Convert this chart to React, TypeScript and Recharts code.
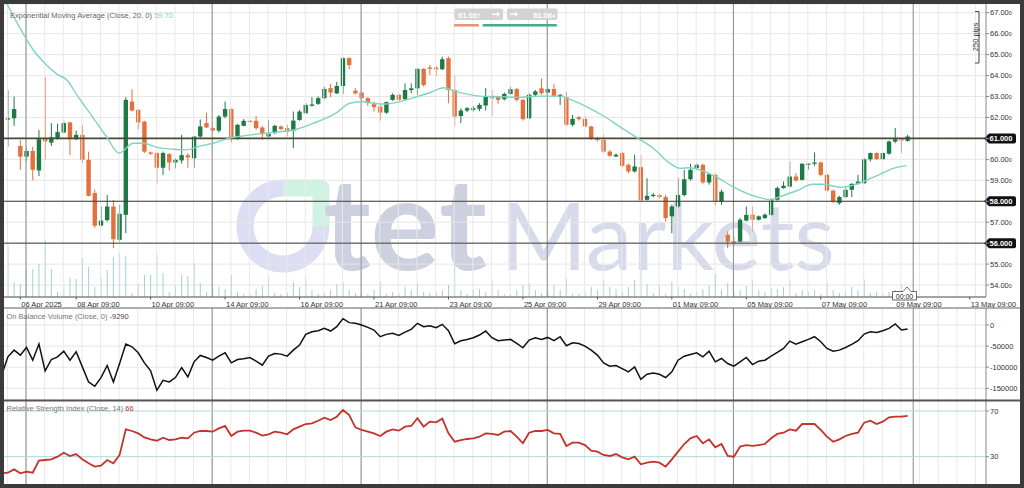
import React from "react";
import { ComposedChart, Bar, Line, XAxis, YAxis, CartesianGrid, ReferenceLine } from "recharts";

const FONT = '"Liberation Sans", Arial, sans-serif';
const UP = "#1d7a46";
const DOWN = "#e3713d";
const EMA_COLOR = "#7fd4c1";
const VOL_COLOR = "#9ed5cb";
const RSI_COLOR = "#c4322c";

// ---------- data (4h candles, 04 Apr – 09 May 2025) ----------
const opens = [
  64.35, 61.90, 61.96, 60.64, 60.13, 60.40, 59.47, 61.00, 60.80, 61.00,
  61.28, 61.76, 60.96, 61.17, 59.98, 58.39, 56.84, 57.10, 57.75, 56.16,
  57.35, 62.76, 62.36, 61.80, 60.33, 60.30, 59.60, 60.25, 59.85, 59.95,
  60.20, 60.05, 61.09, 61.73, 61.50, 61.37, 62.04, 62.40, 61.00, 61.60,
  61.84, 61.84, 61.52, 61.09, 61.25, 61.57, 61.49, 61.37, 61.88, 62.20,
  62.58, 62.65, 62.92, 63.40, 63.15, 63.50, 64.83, 63.28, 63.19, 62.92,
  62.63, 62.52, 62.23, 62.84, 63.08, 62.87, 63.31, 63.39, 64.32, 64.38,
  64.38, 64.30, 64.83, 63.31, 62.07, 62.33, 62.36, 62.41, 62.57, 62.97,
  62.97, 62.87, 63.12, 63.35, 62.84, 61.96, 63.08, 63.39, 63.19, 63.36,
  62.99, 62.97, 61.65, 62.01, 61.93, 61.57, 61.01, 60.93, 60.37, 60.14,
  60.30, 59.74, 59.42, 59.63, 58.07, 58.28, 58.30, 58.20, 57.28, 57.75,
  58.30, 59.05, 59.58, 59.74, 58.90, 59.26, 57.99, 56.40, 56.08, 56.08,
  57.08, 57.36, 57.12, 57.20, 57.35, 58.07, 58.63, 58.70, 59.18, 59.02,
  59.78, 59.79, 59.85, 59.26, 58.51, 57.91, 58.20, 58.55, 58.83, 58.86,
  60.00, 60.30, 60.01, 60.27, 60.85, 60.96, 60.88,
];
const highs = [
  64.40, 63.30, 63.00, 60.93, 60.60, 60.60, 61.40, 63.95, 61.73, 61.70,
  61.84, 61.80, 61.37, 61.65, 60.37, 58.55, 57.75, 58.30, 58.07, 57.83,
  62.97, 63.35, 62.40, 61.84, 60.37, 60.37, 60.37, 60.30, 60.05, 61.17,
  60.30, 61.12, 61.90, 62.23, 61.55, 62.12, 62.76, 62.44, 61.68, 61.92,
  61.88, 62.07, 61.60, 61.88, 61.65, 61.62, 61.65, 62.28, 62.36, 62.68,
  62.97, 63.00, 63.47, 63.59, 63.70, 64.87, 64.87, 63.40, 63.23, 62.97,
  62.76, 62.60, 62.76, 63.15, 63.15, 63.63, 63.63, 64.35, 64.35, 64.50,
  64.46, 64.90, 64.90, 63.98, 62.44, 62.50, 62.55, 62.68, 63.40, 63.31,
  63.00, 63.19, 63.47, 63.40, 62.87, 63.16, 63.31, 63.87, 63.40, 63.60,
  63.12, 63.23, 62.12, 62.07, 62.07, 61.60, 61.08, 61.17, 60.45, 60.28,
  60.37, 59.80, 60.22, 60.22, 59.10, 58.40, 58.35, 58.30, 57.83, 59.10,
  59.50, 59.79, 59.82, 59.79, 59.34, 59.34, 58.55, 56.56, 56.30, 57.20,
  57.75, 57.75, 57.32, 57.42, 58.15, 58.70, 58.94, 59.90, 59.34, 59.82,
  59.82, 60.33, 59.90, 59.34, 58.55, 58.26, 58.70, 58.86, 59.26, 60.05,
  60.33, 60.33, 60.33, 60.90, 61.49, 60.98, 61.17,
];
const lows = [
  61.90, 60.60, 61.60, 59.50, 59.90, 59.00, 59.20, 59.98, 60.64, 60.93,
  61.25, 60.20, 60.93, 59.82, 58.23, 56.72, 56.80, 57.03, 55.76, 56.08,
  56.48, 62.28, 61.44, 60.30, 60.20, 58.83, 59.26, 59.47, 59.57, 59.80,
  59.60, 59.60, 61.00, 61.49, 61.33, 61.28, 61.96, 60.80, 60.93, 61.58,
  61.76, 61.41, 60.93, 60.96, 61.22, 61.40, 61.09, 60.53, 61.84, 62.17,
  62.52, 62.60, 62.87, 62.97, 63.12, 63.12, 64.30, 63.10, 62.84, 62.55,
  62.28, 61.85, 62.17, 62.79, 62.79, 62.84, 63.16, 63.08, 63.47, 64.03,
  63.98, 64.27, 62.68, 61.57, 61.73, 62.25, 62.28, 62.30, 62.33, 62.07,
  62.65, 62.81, 63.08, 62.76, 61.85, 61.92, 63.00, 63.08, 63.15, 62.97,
  62.60, 61.60, 61.57, 61.85, 61.53, 60.93, 60.85, 60.30, 60.12, 60.10,
  59.63, 59.34, 59.37, 57.99, 58.04, 58.20, 58.10, 57.03, 56.48, 57.67,
  58.23, 58.99, 59.50, 58.83, 58.79, 57.80, 57.83, 55.76, 55.90, 56.03,
  57.04, 56.52, 57.08, 57.15, 57.30, 58.02, 58.60, 58.66, 58.94, 58.99,
  59.50, 59.69, 59.18, 58.46, 57.91, 57.83, 58.15, 58.20, 58.79, 58.83,
  59.90, 59.98, 59.98, 60.22, 60.77, 60.30, 60.85,
];
const closes = [
  61.96, 61.96, 62.40, 60.13, 60.40, 59.50, 60.96, 60.85, 61.05, 61.30,
  61.73, 60.96, 61.17, 59.98, 58.26, 56.83, 57.08, 57.75, 56.19, 57.40,
  62.84, 62.33, 61.76, 60.37, 60.27, 59.60, 60.30, 59.85, 59.98, 60.20,
  60.09, 61.09, 61.57, 61.52, 61.37, 62.04, 62.40, 60.96, 61.65, 61.84,
  61.82, 61.49, 61.20, 61.22, 61.60, 61.44, 61.33, 61.85, 62.28, 62.60,
  62.62, 62.92, 63.36, 63.19, 63.50, 64.83, 64.50, 63.15, 62.92, 62.68,
  62.49, 62.23, 62.73, 63.08, 62.84, 63.31, 63.39, 64.32, 63.55, 64.33,
  64.30, 64.78, 63.31, 62.04, 62.33, 62.44, 62.44, 62.60, 63.00, 62.95,
  62.84, 63.12, 63.35, 62.84, 61.92, 63.08, 63.24, 63.16, 63.35, 63.03,
  63.08, 61.65, 61.93, 61.92, 61.57, 60.98, 60.93, 60.37, 60.17, 60.22,
  59.69, 59.42, 59.66, 58.04, 58.26, 58.31, 58.20, 57.20, 57.75, 58.30,
  59.05, 59.50, 59.74, 58.90, 59.29, 57.99, 58.46, 56.08, 56.05, 57.12,
  57.35, 57.12, 57.28, 57.36, 58.07, 58.63, 58.74, 59.18, 58.99, 59.79,
  59.80, 59.85, 59.26, 58.51, 57.99, 58.20, 58.55, 58.83, 58.94, 60.00,
  60.30, 60.01, 60.30, 60.85, 60.96, 60.93, 61.09,
];
const volumes = [
  1000, 5200, 1500, 1300, 2800, 2800, 3300, 5700, 2800, 500,
  1100, 1900, 1800, 3900, 3000, 1000, 1900, 2700, 4000, 4400,
  4100, 400, 1300, 2200, 2200, 4300, 2400, 500, 1200, 2200,
  2100, 3400, 1400, 500, 800, 1000, 800, 2200, 500, 300,
  300, 800, 1100, 2000, 400, 300, 400, 1500, 1000, 1900,
  700, 300, 400, 700, 1300, 1500, 700, 400, 500, 300,
  700, 1500, 300, 500, 400, 1000, 700, 1400, 500, 400,
  500, 700, 1200, 3200, 700, 300, 700, 800, 500, 1700,
  700, 300, 300, 700, 1200, 1400, 700, 400, 700, 1200,
  700, 1800, 300, 300, 500, 1000, 700, 1700, 1000, 800,
  500, 1000, 1700, 2700, 1300, 400, 1200, 300, 1500, 1000,
  800, 300, 500, 800, 1200, 2300, 700, 1400, 600, 700,
  1100, 1700, 700, 500, 900, 800, 1000, 1700, 400, 700,
  500, 700, 300, 1500, 700, 400, 700, 1000, 700, 1700,
  400, 500, 400, 500, 700, 1300, 600,
];
const obvValues = [
  -119000, -75400, -59500, -71400, -53200, -83300, -45200, -108700, -81700, -75400,
  -61900, -83300, -63500, -99200, -134900, -145200, -124600, -96000, -134900, -91300,
  -45200, -51600, -65900, -89700, -108700, -154800, -131000, -134900, -124600, -100800,
  -123000, -87300, -72200, -77000, -83300, -73800, -65900, -89700, -81700, -80200,
  -77000, -85700, -95200, -73800, -67500, -69000, -73800, -59500, -47600, -22200,
  -15900, -13500, -7900, -14300, -4000, 15100, 5600, 4000, 0, -5600,
  -11900, -27800, -22200, -19800, -24600, -16700, -10300, 4000, -4000, -1600,
  -6300, 1600, -13500, -44400, -37300, -34100, -30200, -23800, -14300, -30200,
  -37300, -35700, -34100, -43700, -54000, -35700, -30200, -34100, -29400, -37300,
  -27800, -49200, -42100, -43700, -50000, -59500, -71400, -89700, -97600, -96000,
  -103200, -111100, -99200, -128600, -116700, -113500, -116700, -124600, -111100, -83300,
  -73800, -69800, -65900, -75400, -61900, -87300, -79400, -91300, -97600, -87300,
  -77000, -93700, -85700, -83300, -73800, -65100, -55600, -38100, -45200, -39700,
  -34100, -27800, -39700, -55600, -61900, -59500, -53200, -46000, -37300, -21400,
  -15900, -17500, -13500, -7900, 2400, -11900, -9290,
];
const rsiValues = [
  15.4, 16.0, 18.9, 15.4, 16.9, 16.0, 26.5, 27.1, 27.7, 30.0,
  33.5, 30.6, 32.3, 27.7, 24.2, 21.3, 22.1, 27.1, 24.2, 31.5,
  53.9, 52.5, 50.4, 46.9, 45.2, 44.0, 46.6, 44.6, 45.2, 46.6,
  46.1, 51.0, 52.5, 52.5, 51.9, 54.8, 56.9, 48.1, 51.9, 52.8,
  52.8, 51.0, 48.4, 49.6, 51.9, 51.0, 49.6, 53.9, 56.3, 58.6,
  59.2, 61.5, 64.2, 62.1, 65.0, 70.9, 66.5, 55.7, 53.4, 51.9,
  50.4, 48.1, 51.9, 53.9, 52.8, 56.3, 56.9, 63.6, 56.3, 60.7,
  60.1, 63.3, 50.4, 43.1, 44.6, 45.5, 46.1, 47.5, 50.4, 49.9,
  49.0, 51.9, 52.5, 47.5, 41.7, 51.0, 52.5, 52.5, 53.4, 50.4,
  49.9, 39.4, 42.3, 42.3, 40.2, 35.3, 34.4, 31.5, 30.6, 32.3,
  29.4, 27.7, 30.0, 23.3, 24.8, 25.6, 24.8, 21.3, 27.7, 34.4,
  41.1, 46.1, 48.1, 41.7, 45.2, 38.2, 41.1, 30.6, 30.0, 38.8,
  40.2, 39.4, 40.2, 41.1, 46.1, 49.9, 51.0, 53.9, 52.8, 58.6,
  58.6, 58.6, 53.4, 47.5, 43.1, 45.2, 48.1, 49.9, 51.0, 59.8,
  61.5, 58.6, 60.7, 64.5, 65.0, 65.0, 65.8,
];
// EMA(20)
const emaN = [
  1.8, 4.9, 6.1, 7.7, 9.9, 11.5, 13.3, 15.8, 17.9, 19.9, 22.2, 23.8, 26.0, 28.7, 30.8, 33.0,
  35.1, 38.0, 39.9, 43.2, 45.9, 48.0, 51.2, 55.0, 57.1, 59.3, 60.9, 63.0, 65.7, 67.9, 70.0,
  72.2, 74.3, 78.1, 81.3, 84.5, 87.7, 91.0, 92.6, 95.3, 98.0, 100.6, 103.3, 106.0, 108.7,
  110.3, 111.9, 113.5, 115.6, 118.9, 121.1, 123.7, 124.8, 126.4, 129.1, 131.7, 133.4, 136.1,
  137.2, 139.8, 142.6, 144.7, 146.8,
];
const emaV = [
  67.45, 65.78, 65.22, 64.66, 64.07, 63.79, 62.99, 61.96, 61.08, 60.30, 60.77, 60.77, 60.57, 60.48, 60.45, 60.64,
  60.77, 61.03, 61.12, 61.24, 61.32, 61.40, 61.72, 62.23, 62.68, 62.75, 62.68, 62.64, 62.80, 62.99, 63.18,
  63.42, 63.23, 63.02, 62.99, 62.96, 63.02, 63.02, 62.86, 62.51, 62.07, 61.56, 61.05, 60.53, 59.81,
  59.57, 59.60, 59.49, 59.25, 58.69, 58.38, 58.14, 58.06, 58.22, 58.50, 58.81, 58.81, 58.67,
  58.70, 58.93, 59.30, 59.57, 59.70,
];
const timeTickN = [4, 13, 25, 37, 49, 61, 73, 85, 97, 109, 121, 133, 145, 157];
const timeLabels = [
  "06 Apr 2025", "08 Apr 09:00", "10 Apr 09:00", "14 Apr 09:00", "16 Apr 09:00", "21 Apr 09:00",
  "23 Apr 09:00", "25 Apr 09:00", "29 Apr 09:00", "01 May 09:00", "05 May 09:00", "07 May 09:00",
  "09 May 09:00", "13 May 09:00",
];
const priceTicks = [54, 55, 56, 57, 58, 59, 60, 61, 62, 63, 64, 65, 66, 67];
const levelValues = [61, 58, 56];
const levelLabels = ["61.000", "58.000", "56.000"];
const obvTicks = [0, -50000, -100000, -150000];
const rsiTicks = [70, 30];
const weekN = [4.92, 34.92, 58.92, 88.92, 118.92, 147.9];

// ---------- built tables ----------
const rows = opens.map((o, i) => ({
  n: i + 1, o, h: highs[i], l: lows[i], c: closes[i], v: volumes[i], obv: obvValues[i], rsi: rsiValues[i],
}));
const emaRows = emaN.map((n, i) => ({ n, ema: emaV[i] }));
const gridN: number[] = [];
for (let v = 1.92; v < 159.6; v += 3) gridN.push(Math.round(v * 100) / 100);

const X_DOMAIN: [number, number] = [1.37, 159.63];
const PRICE_DOMAIN: [number, number] = [53.43, 67.415];
const VOL_DOMAIN: [number, number] = [0, 29300];
const OBV_DOMAIN: [number, number] = [-177700, 40300];
const RSI_DOMAIN: [number, number] = [6.1, 78.75];

// ---------- shapes ----------
function Candle(props: any) {
  const { x, y, width, height, payload } = props;
  if (!payload) return null;
  const { o, h, l, c } = payload;
  const top = Math.min(y, y + height);
  const bot = Math.max(y, y + height);
  const k = (bot - top) / (h - l);
  const cx = x + width / 2;
  const yo = top + (h - o) * k;
  const yc = top + (h - c) * k;
  const color = c >= o ? UP : DOWN;
  const bt = Math.min(yo, yc);
  const bh = Math.max(Math.abs(yo - yc), 1.3);
  return (
    <g>
      <line x1={cx} x2={cx} y1={top} y2={bot} stroke={color} strokeWidth={1} />
      <rect x={cx - 2.2} y={bt} width={4.4} height={bh} fill={color} />
    </g>
  );
}

function VolBar(props: any) {
  const { x, y, width, height } = props;
  const cx = x + width / 2;
  return <rect x={cx - 0.5} y={y} width={1} height={Math.max(height, 0)} fill={VOL_COLOR} />;
}

function PriceTick(props: any) {
  const { x, y, payload } = props;
  if (levelValues.includes(payload.value)) return null;
  return (
    <text x={x} y={y} dy={2.7} fontSize={7.5} fill="#333" fontFamily={FONT} textAnchor="start">
      {payload.value.toFixed(2)}
      <tspan fontSize={5.5}>0</tspan>
    </text>
  );
}

function TimeTick(props: any) {
  const { x, y, payload } = props;
  const i = timeTickN.indexOf(payload.value);
  return (
    <g>
      <line x1={x} x2={x} y1={y} y2={y + 2.5} stroke="#555" strokeWidth={1} />
      <text x={x + 1} y={y + 9.6} fontSize={7.5} fill="#333" fontFamily={FONT} textAnchor="start">
        {timeLabels[i]}
      </text>
    </g>
  );
}

function tagLabel(text: string) {
  return (props: any) => {
    const vb = props.viewBox || {};
    const x0 = (vb.x || 0) + (vb.width || 0);
    const y0 = vb.y || 0;
    return (
      <g>
        <path
          d={`M${x0 - 2},${y0} L${x0 + 3},${y0 - 5} H${x0 + 28} Q${x0 + 30},${y0 - 5} ${x0 + 30},${y0 - 3} V${y0 + 3} Q${x0 + 30},${y0 + 5} ${x0 + 28},${y0 + 5} H${x0 + 3} Z`}
          fill="#111"
        />
        <text x={x0 + 3.5} y={y0 + 2.7} fontSize={7.5} fontWeight="bold" fill="#fff" fontFamily={FONT}>
          {text}
        </text>
      </g>
    );
  };
}

function vGrid(prefix: string) {
  const light = gridN.map((n) => (
    <ReferenceLine key={`${prefix}g${n}`} x={n} stroke="#e9e9e9" strokeWidth={1} />
  ));
  const dark = weekN.map((n) => (
    <ReferenceLine key={`${prefix}w${n}`} x={n} stroke="#8a8a8a" strokeWidth={1} />
  ));
  return [...light, ...dark];
}

const axisTick = { fontSize: 7.5, fill: "#333", fontFamily: FONT };

// ---------- watermark & overlay ----------
function Watermark() {
  return (
    <svg width={1024} height={488} style={{ position: "absolute", left: 0, top: 0 }}>
      <path d="M283,188 A38,38 0 1,0 321,226" fill="none" stroke="#dcdef4" strokeWidth={17} />
      <path d="M283,188 H321 V226" fill="none" stroke="#cff3e2" strokeWidth={17} strokeLinejoin="round" />
      <text x={323} y={270} fontSize={128} fontWeight="bold" fontFamily="Lato, sans-serif" fill="#cdd0df" textLength={164} lengthAdjust="spacingAndGlyphs">
        tet
      </text>
      <text x={500} y={270} fontSize={94} fontFamily="Lato, sans-serif" fill="#d7daea" textLength={335} lengthAdjust="spacingAndGlyphs">
        Markets
      </text>
    </svg>
  );
}

function Overlay() {
  return (
    <svg width={1024} height={488} style={{ position: "absolute", left: 0, top: 0, pointerEvents: "none" }} fontFamily={FONT}>
      <rect x={4} y={307.5} width={1016} height={1} fill="#666" />
      <rect x={4} y={399.5} width={1016} height={2} fill="#555" />
      <text x={10} y={17.5} fontSize={7.5} fill="#666">
        Exponential Moving Average (Close, 20, 0) <tspan fill={EMA_COLOR}>59.70</tspan>
      </text>
      <text x={6.5} y={318.5} fontSize={7.5} fill="#777">
        On Balance Volume (Close, 0) <tspan fill="#444">-9290</tspan>
      </text>
      <text x={6.5} y={411} fontSize={7.5} fill="#777">
        Relative Strength Index (Close, 14) <tspan fill={RSI_COLOR}>66</tspan>
      </text>
      {/* bid / ask widget */}
      <rect x={454.5} y={8.5} width={48.5} height={11.5} rx={2} fill="#d3d3d3" />
      <text x={458} y={17.5} fontSize={7.5} fontWeight="bold" fill="#fff">
        61.03<tspan fontSize={5.5}>7</tspan>
      </text>
      <path d="M492,13.5 H497 V11.5 L500,14.3 L497,17 V15 H492 Z" fill="#fff" />
      <rect x={507} y={8.5} width={50.5} height={11.5} rx={2} fill="#d3d3d3" />
      <path d="M510,13.5 H515 V11.5 L518,14.3 L515,17 V15 H510 Z" fill="#fff" />
      <text x={555} y={17.5} fontSize={7.5} fontWeight="bold" fill="#fff" textAnchor="end">
        61.06<tspan fontSize={5.5}>4</tspan>
      </text>
      <rect x={454} y={24} width={25} height={2.6} rx={1.2} fill="#e8907a" />
      <rect x={482.5} y={24} width={74.5} height={2.6} rx={1.2} fill="#3fae82" />
      {/* 250 pips ruler */}
      <path d="M975,11.5 H979 V63 H975" fill="none" stroke="#444" strokeWidth={1} />
      <text transform="translate(977.5,37) rotate(-90)" fontSize={7.5} fill="#333" textAnchor="middle">
        250 pips
      </text>
      {/* time cursor */}
      <path d="M892.5,291.5 H903 L907,287 L911,291.5 H916.5 V300 H892.5 Z" fill="#fff" stroke="#444" strokeWidth={0.8} />
      <text x={904.5} y={298.6} fontSize={7} fill="#222" textAnchor="middle">
        00:00
      </text>
    </svg>
  );
}

export default function App() {
  return (
    <div style={{ position: "relative", width: 1024, height: 488, background: "#3b3b3b", overflow: "hidden", fontFamily: FONT }}>
      <style>{`html,body{margin:0;padding:0;background:#fff;}`}</style>
      <div style={{ position: "absolute", left: 4, top: 4, width: 1016, height: 480, background: "#fff" }} />
      <Watermark />

      {/* price panel */}
      <div style={{ position: "absolute", left: 4, top: 4 }}>
        <ComposedChart width={1016} height={304} data={rows} margin={{ top: 0, right: 0, bottom: 0, left: 0 }}>
          <CartesianGrid vertical={false} stroke="#e6e6e6" />
          {vGrid("p")}
          <XAxis
            type="number" dataKey="n" domain={X_DOMAIN} allowDataOverflow ticks={timeTickN} interval={0}
            height={11} tickSize={0} tickMargin={0} tickLine={false} axisLine={{ stroke: "#555" }} tick={<TimeTick />}
          />
          <XAxis xAxisId="vx" type="number" dataKey="n" domain={X_DOMAIN} allowDataOverflow hide />
          <YAxis
            orientation="right" width={34} domain={PRICE_DOMAIN} allowDataOverflow ticks={priceTicks} interval={0}
            tickSize={3} tickMargin={1} axisLine={{ stroke: "#888" }} tickLine={{ stroke: "#888" }} tick={<PriceTick />}
          />
          <YAxis yAxisId="vol" domain={VOL_DOMAIN} hide />
          <Bar xAxisId="vx" yAxisId="vol" dataKey="v" shape={<VolBar />} isAnimationActive={false} />
          {levelValues.map((v, i) => (
            <ReferenceLine
              key={`lvl${v}`} y={v}
              stroke={v === 61 ? "#4b4830" : "#3a3a3a"} strokeWidth={v === 61 ? 1.6 : 1}
              label={tagLabel(levelLabels[i])}
            />
          ))}
          <Bar dataKey={(d: any) => [d.l, d.h]} shape={<Candle />} isAnimationActive={false} />
          <Line data={emaRows} dataKey="ema" type="monotone" stroke={EMA_COLOR} strokeWidth={1.4} dot={false} activeDot={false} isAnimationActive={false} />
        </ComposedChart>
      </div>

      {/* OBV panel */}
      <div style={{ position: "absolute", left: 4, top: 308 }}>
        <ComposedChart width={1016} height={92} data={rows} margin={{ top: 0, right: 0, bottom: 0, left: 0 }}>
          <CartesianGrid vertical={false} stroke="#e6e6e6" />
          {vGrid("o")}
          <XAxis type="number" dataKey="n" domain={X_DOMAIN} allowDataOverflow hide />
          <YAxis
            orientation="right" width={34} domain={OBV_DOMAIN} allowDataOverflow ticks={obvTicks} interval={0}
            tickSize={3} tickMargin={1} axisLine={{ stroke: "#888" }} tickLine={{ stroke: "#888" }} tick={axisTick}
          />
          <Line dataKey="obv" type="linear" stroke="#111" strokeWidth={1.5} dot={false} activeDot={false} isAnimationActive={false} />
        </ComposedChart>
      </div>

      {/* RSI panel */}
      <div style={{ position: "absolute", left: 4, top: 401 }}>
        <ComposedChart width={1016} height={83} data={rows} margin={{ top: 0, right: 0, bottom: 0, left: 0 }}>
          {vGrid("r")}
          <XAxis type="number" dataKey="n" domain={X_DOMAIN} allowDataOverflow hide />
          <YAxis
            orientation="right" width={34} domain={RSI_DOMAIN} allowDataOverflow ticks={rsiTicks} interval={0}
            tickSize={3} tickMargin={1} axisLine={{ stroke: "#888" }} tickLine={{ stroke: "#888" }} tick={axisTick}
          />
          <ReferenceLine y={70} stroke="#a9dcd6" strokeWidth={1} />
          <ReferenceLine y={30} stroke="#a9dcd6" strokeWidth={1} />
          <Line dataKey="rsi" type="linear" stroke={RSI_COLOR} strokeWidth={1.8} dot={false} activeDot={false} isAnimationActive={false} />
        </ComposedChart>
      </div>

      <Overlay />
    </div>
  );
}
